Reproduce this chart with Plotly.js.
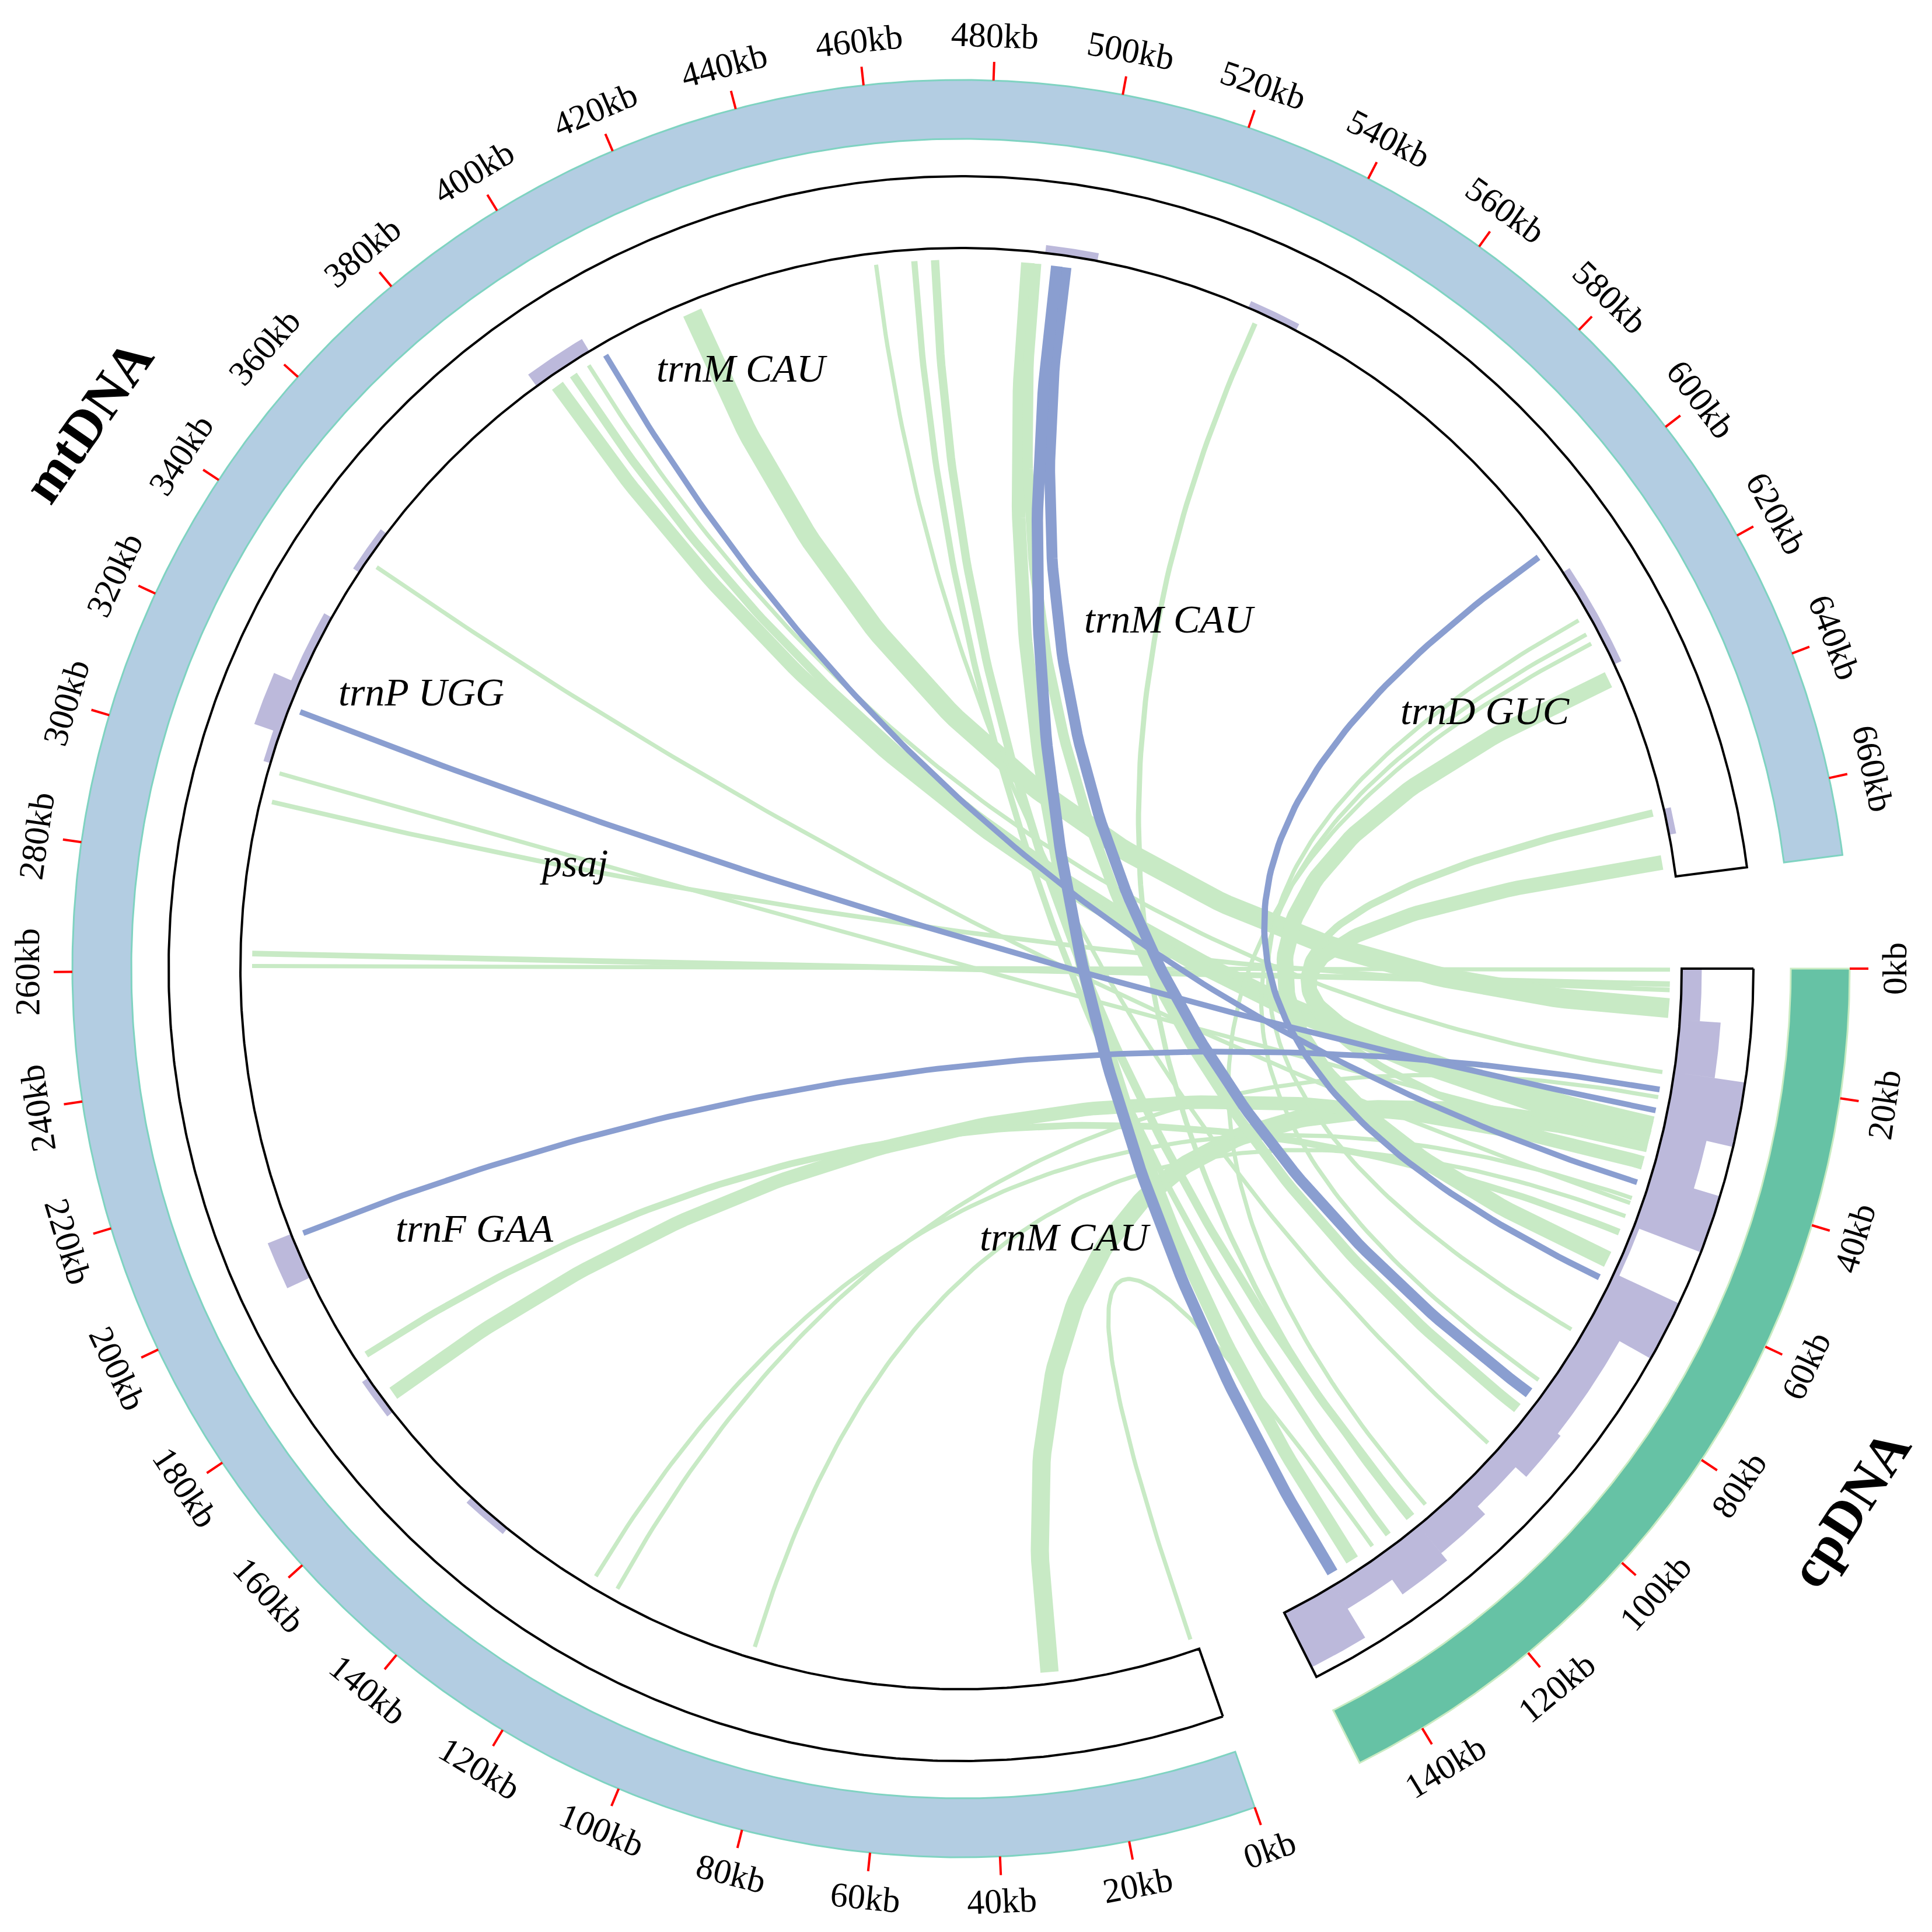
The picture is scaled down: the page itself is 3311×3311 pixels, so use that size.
<!DOCTYPE html>
<html>
<head>
<meta charset="utf-8">
<script src="https://cdn.plot.ly/plotly-3.0.1.min.js"></script>
<style>
html,body{margin:0;padding:0;background:#ffffff;}
#chart{width:3311px;height:3311px;}
</style>
</head>
<body>
<div id="chart"></div>
<script>
// ---------------- DATA ----------------
const mtLengthKb = 672;
const cpLengthKb = 151;

const mtTickKb = [0,20,40,60,80,100,120,140,160,180,200,220,240,260,280,300,320,340,360,380,400,420,440,460,480,500,520,540,560,580,600,620,640,660];
const cpTickKb = [0,20,40,60,80,100,120,140];

// purple coverage histogram on the mtDNA track (kb start, kb end, relative height)
const mtHistStart = [139, 170, 200, 300, 306, 316, 340, 389, 491, 531, 610, 659];
const mtHistEnd   = [148, 178, 209, 306, 316, 330, 349, 401, 501, 541, 630, 664];
const mtHistValue = [0.10,0.10,0.35,0.10,0.38,0.12,0.10,0.20,0.11,0.10,0.11,0.10];

// purple coverage histogram on the cpDNA track
const cpHistStart = [0,   9.7, 19.7, 31,   39.8, 50,   59.6, 70.3, 90.4, 100,  110,  120.6, 130.6, 140.3];
const cpHistEnd   = [9.7, 19.7, 31,  39.8, 50,   59.6, 70.3, 90.4, 100,  110,  120.6, 130.6, 140.3, 151];
const cpHistValue = [0.28,0.57,1.0,  0.62, 1.0,  0.08, 1.0,  0.50, 0.55, 0.35, 0.50, 0.63,  0.38,  0.85];

// green links: mtDNA position (kb) -> cpDNA position (kb), span (kb)
const greenMtKb   = [1,   28.9, 86.3, 115.1, 119.9, 172.8, 181.9, 261, 263.4, 292.9, 298.6, 342.7, 392.3, 396,  399.5, 421.9, 458.6, 466,   470,   487.9, 489.5, 533.4, 619.4, 622.5, 624.5, 632.2, 659.3, 669];
const greenCpKb   = [130, 34,   48.7, 24.9,  45,    37.9,  52,    0.2, 3.0,   4.1,   35,    46,    32.7,  29.5, 20,    7.6,   100.1, 126.2, 120.6, 134.7, 91.3,  121.2, 72.9,  84.5,  117,   57.7,  38.5,  31];
const greenSpanKb = [0.8, 3.5,  0.8,  0.8,   0.8,   2.6,   1.3,   0.8, 1.1,   0.9,   0.8,   0.8,   2.6,   1.6,  0.8,   3.8,   0.8,   1.2,   1.6,   2.6,   2.0,   1.0,   0.8,   0.8,   0.8,   3.2,   1.4,   2.8];

// blue links (tRNA / psaj transfers)
const blueMtKb   = [208.3, 311.1, 403.3, 605,  495.3, 493.5];
const blueCpKb   = [23.4,  27.5,  41.8,  61.5, 87.6,  139.2];
const blueSpanKb = [1.1,   1.1,   1.1,   1.2,  2.1,   2.2];

const linkLabels = ["trnM CAU", "trnM CAU", "trnD GUC", "trnP UGG", "psaj", "trnF GAA", "trnM CAU"];
const genomeNames = ["mtDNA", "cpDNA"];

// ---------------- GEOMETRY ----------------
const W = 3311, CX = 1647, CY = 1660;
const GAP = 7.35;
const DEG_PER_KB = (360 - 2 * GAP) / (mtLengthKb + cpLengthKb);
const CP_START = 90;
const MT_START = CP_START + cpLengthKb * DEG_PER_KB + GAP;
const R_RING_IN = 1422, R_RING_OUT = 1523, R_TICK = 1555, R_LABEL = 1600;
const R_BOX_IN = 1235, R_BOX_OUT = 1358, R_LINK = 1215;

const mtB = kb => MT_START + kb * DEG_PER_KB;
const cpB = kb => CP_START + kb * DEG_PER_KB;
function pt(b, r) { const a = b * Math.PI / 180; return [CX + r * Math.sin(a), CY - r * Math.cos(a)]; }
function arc(b0, b1, r, n) {
  const xs = [], ys = [];
  n = n || Math.max(8, Math.ceil(Math.abs(b1 - b0) * 3));
  for (let i = 0; i <= n; i++) { const p = pt(b0 + (b1 - b0) * i / n, r); xs.push(p[0]); ys.push(p[1]); }
  return [xs, ys];
}
function sector(b0, b1, r0, r1) {
  const a = arc(b0, b1, r1), c = arc(b1, b0, r0);
  const xs = a[0].concat(c[0]); const ys = a[1].concat(c[1]);
  xs.push(xs[0]); ys.push(ys[0]);
  return [xs, ys];
}
const PX_PER_KB = DEG_PER_KB * Math.PI / 180 * R_LINK;

const traces = [];
const noHover = {hoverinfo: 'skip', showlegend: false};

// outer genome rings
const mtRing = sector(mtB(0), mtB(mtLengthKb), R_RING_IN, R_RING_OUT);
traces.push(Object.assign({x: mtRing[0], y: mtRing[1], mode: 'lines', fill: 'toself', fillcolor: '#b3cde2', line: {color: '#7fd3c1', width: 3}}, noHover));
const cpRing = sector(cpB(0), cpB(cpLengthKb), R_RING_IN, R_RING_OUT);
traces.push(Object.assign({x: cpRing[0], y: cpRing[1], mode: 'lines', fill: 'toself', fillcolor: '#66c2a5', line: {color: '#c9ebc2', width: 3}}, noHover));

// tick marks
const tx = [], ty = [];
function addTick(b) { const p0 = pt(b, R_RING_OUT), p1 = pt(b, R_TICK); tx.push(p0[0], p1[0], null); ty.push(p0[1], p1[1], null); }
mtTickKb.forEach(k => addTick(mtB(k)));
cpTickKb.forEach(k => addTick(cpB(k)));
traces.push(Object.assign({x: tx, y: ty, mode: 'lines', line: {color: '#ff0000', width: 4}}, noHover));

// purple histograms
function histTrace(starts, ends, vals, toB) {
  const xs = [], ys = [];
  for (let i = 0; i < starts.length; i++) {
    const s = sector(toB(starts[i]), toB(ends[i]), R_BOX_IN, R_BOX_IN + vals[i] * (R_BOX_OUT - R_BOX_IN));
    xs.push(...s[0], null); ys.push(...s[1], null);
  }
  return Object.assign({x: xs, y: ys, mode: 'lines', fill: 'toself', fillcolor: '#bcb9db', line: {width: 0, color: 'rgba(0,0,0,0)'}}, noHover);
}
traces.push(histTrace(mtHistStart, mtHistEnd, mtHistValue, mtB));
traces.push(histTrace(cpHistStart, cpHistEnd, cpHistValue, cpB));

// black track boxes
const mtBox = sector(mtB(0), mtB(mtLengthKb), R_BOX_IN, R_BOX_OUT);
traces.push(Object.assign({x: mtBox[0], y: mtBox[1], mode: 'lines', line: {color: '#000000', width: 4}}, noHover));
const cpBox = sector(cpB(0), cpB(cpLengthKb), R_BOX_IN, R_BOX_OUT);
traces.push(Object.assign({x: cpBox[0], y: cpBox[1], mode: 'lines', line: {color: '#000000', width: 4}}, noHover));

// links (quadratic Bezier through the circle centre)
function linkTrace(mtKb, cpKb, spanKb, color) {
  const p0 = pt(mtB(mtKb), R_LINK), p2 = pt(cpB(cpKb), R_LINK);
  const xs = [], ys = [], n = 120;
  for (let i = 0; i <= n; i++) {
    const t = i / n, u = 1 - t;
    xs.push(u * u * p0[0] + 2 * u * t * CX + t * t * p2[0]);
    ys.push(u * u * p0[1] + 2 * u * t * CY + t * t * p2[1]);
  }
  return Object.assign({x: xs, y: ys, mode: 'lines', line: {color: color, width: spanKb * PX_PER_KB}}, noHover);
}
for (let i = 0; i < greenMtKb.length; i++) traces.push(linkTrace(greenMtKb[i], greenCpKb[i], greenSpanKb[i], '#c8eac5'));
for (let i = 0; i < blueMtKb.length; i++) traces.push(linkTrace(blueMtKb[i], blueCpKb[i], blueSpanKb[i], '#8a9ed0'));

// annotations
const annotations = [];
function tickLabel(b, txt) {
  let bb = ((b % 360) + 360) % 360;
  let ang;
  if (bb >= 89.9 && bb < 257) ang = bb - 180; else ang = bb > 180 ? bb - 360 : bb;
  const p = pt(b, R_LABEL);
  annotations.push({x: p[0], y: p[1], xref: 'x', yref: 'y', text: txt, showarrow: false, textangle: ang,
    xanchor: 'center', yanchor: 'middle', font: {family: 'Liberation Serif, Times New Roman, serif', size: 60, color: '#000'}});
}
mtTickKb.forEach(k => tickLabel(mtB(k), k + 'kb'));
cpTickKb.forEach(k => tickLabel(cpB(k), k + 'kb'));

const labelPos = [[1271, 631], [2004, 1061], [2545, 1218], [722, 1186], [983, 1479], [813, 2105], [1825, 2120]];
linkLabels.forEach((t, i) => annotations.push({x: labelPos[i][0], y: labelPos[i][1], xref: 'x', yref: 'y', text: '<i>' + t + '</i>', showarrow: false,
  xanchor: 'center', yanchor: 'middle', font: {family: 'Liberation Serif, Times New Roman, serif', size: 68, color: '#000'}}));

annotations.push({x: 150, y: 722, xref: 'x', yref: 'y', text: '<b>' + genomeNames[0] + '</b>', showarrow: false, textangle: -55,
  xanchor: 'center', yanchor: 'middle', font: {family: 'Liberation Serif, Times New Roman, serif', size: 94, color: '#000'}});
annotations.push({x: 3170, y: 2585, xref: 'x', yref: 'y', text: '<b>' + genomeNames[1] + '</b>', showarrow: false, textangle: -57,
  xanchor: 'center', yanchor: 'middle', font: {family: 'Liberation Serif, Times New Roman, serif', size: 94, color: '#000'}});

const layout = {
  width: W, height: W,
  margin: {l: 0, r: 0, t: 0, b: 0, pad: 0},
  paper_bgcolor: '#ffffff', plot_bgcolor: '#ffffff',
  xaxis: {range: [0, W], visible: false, fixedrange: true},
  yaxis: {range: [W, 0], visible: false, fixedrange: true},
  showlegend: false,
  annotations: annotations
};
Plotly.newPlot('chart', traces, layout, {staticPlot: true, displayModeBar: false});
</script>
</body>
</html>
